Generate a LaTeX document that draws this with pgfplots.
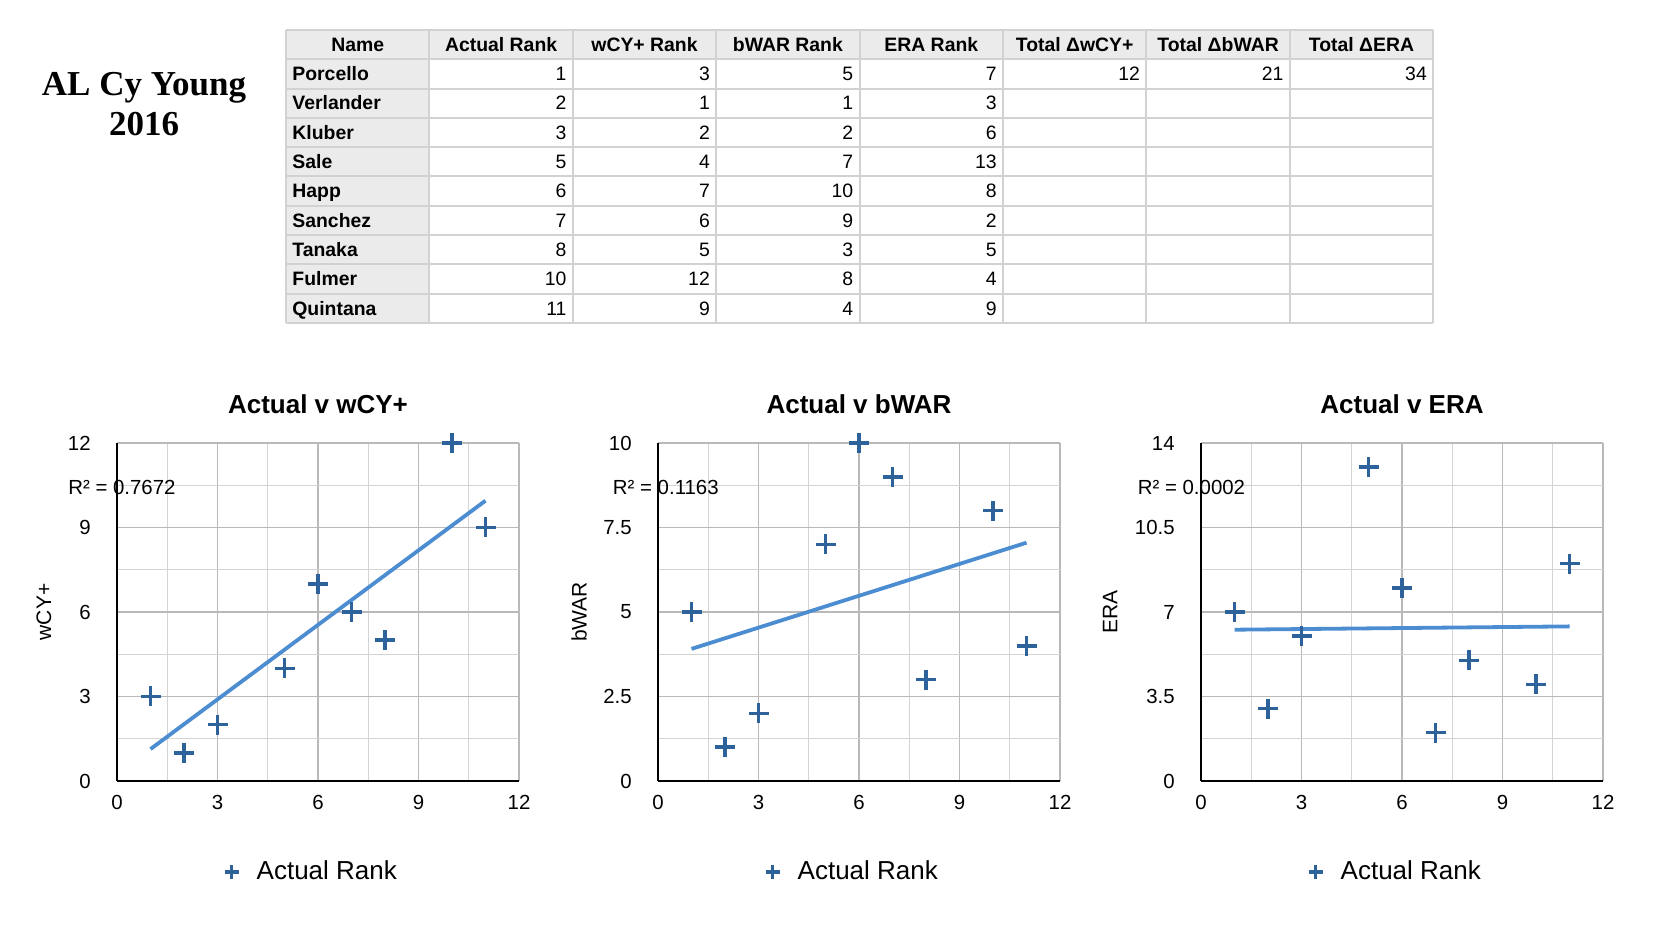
\documentclass[border=0pt]{standalone}
\usepackage{fontspec}
\setmainfont{Liberation Sans}
\newfontfamily\serifbold{Liberation Serif}
\usepackage{pgfplots}
\usepackage{pgfplotstable}
\pgfplotsset{compat=1.18}

\definecolor{markblue}{RGB}{46,98,155}
\definecolor{trendblue}{RGB}{76,141,209}
\definecolor{gridmaj}{RGB}{185,185,185}
\definecolor{gridmin}{RGB}{212,212,212}
\definecolor{tabgray}{RGB}{235,235,235}
\definecolor{tabline}{RGB}{210,210,210}

% actual rank vs the three predicted ranks
\pgfplotstableread{
x  wcy bwar era
1  3   5    7
2  1   1    3
3  2   2    6
5  4   7    13
6  7   10   8
7  6   9    2
8  5   3    5
10 12  8    4
11 9   4    9
}\ranks

\pgfplotsset{
  rankplot/.style={
    scale only axis, width=201pt, height=169pt, anchor=south west,
    xmin=0, xmax=12, xtick={0,3,6,9,12},
    minor x tick num=1, minor y tick num=1,
    grid=both,
    major grid style={draw=gridmaj, line width=0.8pt},
    minor grid style={draw=gridmin, line width=0.6pt},
    axis lines=left, axis line style={-, black, line width=0.7pt},
    major tick length=0pt, minor tick length=0pt,
    /pgf/number format/assume math mode=true,
    ticklabel style={font=\fontsize{10.2}{12}\selectfont},
    xticklabel style={anchor=north, inner sep=0pt, yshift=-7pt},
    yticklabel style={anchor=east, inner sep=0pt, xshift=-13pt},
    title style={font=\bfseries\fontsize{13}{15}\selectfont, at={(0.5,1)}, anchor=center, yshift=13.5pt},
    ylabel style={font=\fontsize{10.5}{12}\selectfont, anchor=center},
    legend style={at={(0.487,-0.269)}, anchor=center, draw=none, fill=none,
      font=\fontsize{13}{15}\selectfont,
      /tikz/every odd column/.append style={column sep=7pt}},
    clip=false,
  },
  marks/.style={only marks, mark=+, color=markblue, mark size=5pt,
    mark options={line width=1.75pt},
    legend image code/.code={\draw[##1, mark size=3.5pt, mark options={line width=1.8pt}] plot coordinates {(0pt,0pt)};}},
  trend/.style={no marks, color=trendblue, line width=1.9pt, forget plot},
}

\begin{document}
\begin{tikzpicture}
\path[use as bounding box] (0,0) rectangle (840pt,472.5pt);

% title and table, in pixel units from the top left corner
\begin{scope}[shift={(0pt,472.5pt)}, x=0.5pt, y=-0.5pt]
  \node[font=\serifbold\bfseries\fontsize{17.5}{20}\selectfont, align=center] at (144,104) {AL Cy Young\\2016};
  \fill[tabgray] (286,30) rectangle (1433.2,59.3);
  \fill[tabgray] (286,59.3) rectangle (429.4,323);
  \foreach \i in {0,...,8}
    \draw[tabline, line width=1pt] ({286+\i*143.4},30) -- ({286+\i*143.4},323);
  \foreach \j in {0,...,10}
    \draw[tabline, line width=1pt] (286,{30+\j*29.3}) -- (1433.2,{30+\j*29.3});
  \foreach \t [count=\i from 0] in {Name, Actual Rank, wCY+ Rank, bWAR Rank, ERA Rank, Total ΔwCY+, Total ΔbWAR, Total ΔERA}
    \node[font=\bfseries\fontsize{9.7}{11}\selectfont, anchor=base] at ({286+(\i+0.5)*143.4},{30+14.65+6.7}) {\t};
  \foreach \n/\a/\b/\c/\d [count=\r] in {Porcello/1/3/5/7, Verlander/2/1/1/3, Kluber/3/2/2/6, Sale/5/4/7/13,
      Happ/6/7/10/8, Sanchez/7/6/9/2, Tanaka/8/5/3/5, Fulmer/10/12/8/4, Quintana/11/9/4/9} {
    \node[font=\bfseries\fontsize{9.7}{11}\selectfont, anchor=base west, inner sep=0pt] at (292,{30+(\r+0.5)*29.3+6.7}) {\n};
    \foreach \v [count=\k] in {\a,\b,\c,\d}
      \node[font=\fontsize{9.7}{11}\selectfont, anchor=base east, inner sep=0pt] at ({286+(\k+1)*143.4-6},{30+(\r+0.5)*29.3+6.7}) {\v};
  }
  \foreach \v [count=\k from 5] in {12,21,34}
    \node[font=\fontsize{9.7}{11}\selectfont, anchor=base east, inner sep=0pt] at ({286+(\k+1)*143.4-6},{30+1.5*29.3+6.7}) {\v};
\end{scope}

\begin{axis}[rankplot, at={(58.5pt,82pt)},
  title={Actual v wCY+}, ylabel={wCY+},
  ymin=0, ymax=12, ytick={0,3,6,9,12},
  ylabel style={at={(axis description cs:-0.182,0.5)}}]
  \addplot[trend] table[x=x, y={create col/linear regression={y=wcy}}] {\ranks};
  \addplot[marks] table[x=x, y=wcy] {\ranks};
  \addlegendentry{Actual Rank}
  \node[anchor=base west, inner sep=0pt, font=\fontsize{10.2}{12}\selectfont] at (axis description cs:-0.122,0.849) {R² = 0.7672};
\end{axis}

\begin{axis}[rankplot, at={(329pt,82pt)},
  title={Actual v bWAR}, ylabel={bWAR},
  ymin=0, ymax=10, ytick={0,2.5,5,7.5,10},
  ylabel style={at={(axis description cs:-0.1965,0.5)}}]
  \addplot[trend] table[x=x, y={create col/linear regression={y=bwar}}] {\ranks};
  \addplot[marks] table[x=x, y=bwar] {\ranks};
  \addlegendentry{Actual Rank}
  \node[anchor=base west, inner sep=0pt, font=\fontsize{10.2}{12}\selectfont] at (axis description cs:-0.113,0.849) {R² = 0.1163};
\end{axis}

\begin{axis}[rankplot, at={(600.5pt,82pt)},
  title={Actual v ERA}, ylabel={ERA},
  ymin=0, ymax=14, ytick={0,3.5,7,10.5,14},
  ylabel style={at={(axis description cs:-0.226,0.5)}}]
  \addplot[trend] table[x=x, y={create col/linear regression={y=era}}] {\ranks};
  \addplot[marks] table[x=x, y=era] {\ranks};
  \addlegendentry{Actual Rank}
  \node[anchor=base west, inner sep=0pt, font=\fontsize{10.2}{12}\selectfont] at (axis description cs:-0.158,0.849) {R² = 0.0002};
\end{axis}
\end{tikzpicture}
\end{document}
